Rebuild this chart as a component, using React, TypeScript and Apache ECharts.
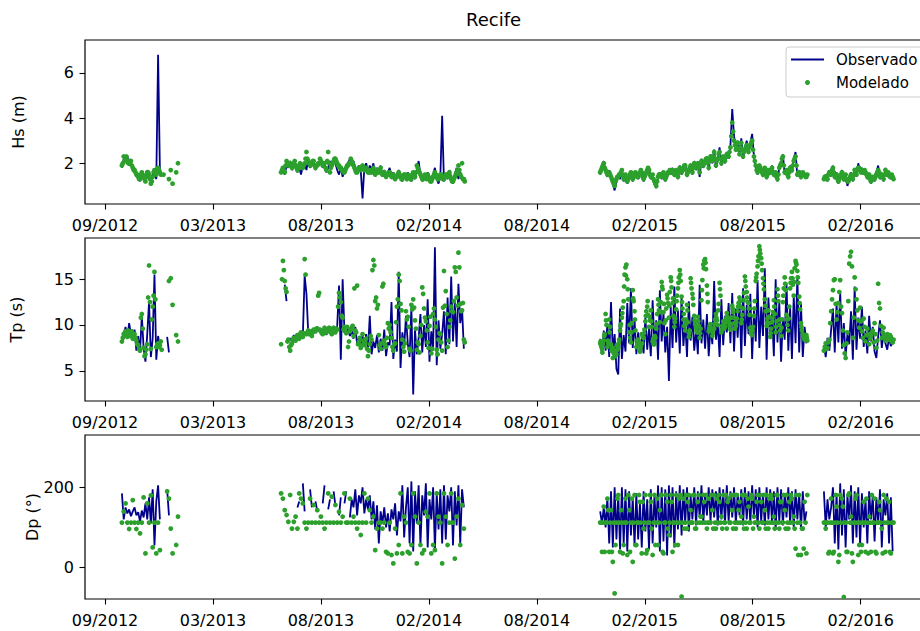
import React, { useEffect, useRef } from 'react';
import * as echarts from 'echarts';

const FONT = 'DejaVu Sans';
const DAY = 86400000;
const STEP_DAYS = 3;

// x tick dates (labels formatted MM/YYYY)
const TICK_DATES = ['2012-09-05', '2013-03-03', '2013-08-29', '2014-02-24', '2014-08-22', '2015-02-17', '2015-08-15', '2016-02-10'];
// start date of each data segment (values every STEP_DAYS days; "B"/"C" model arrays are offset inside a step)
const SEG_STARTS = ['2012-10-03', '2013-06-24', '2014-12-05', '2015-12-11'];

const HS_TICKS = [2, 4, 6];
const TP_TICKS = [5, 10, 15];
const DP_TICKS = [0, 200];

// ---------- Hs (m) ----------
const hsObs1 = [1.8, 2.2, 2.1, 2.3, 1.9, 2.0, 1.7, 1.8, 1.4, 1.5, 1.2, 1.6, 1.5, 1.3, 1.7, 1.4, 1.2, 1.5, 1.6, 1.3, 6.8, 1.7];
const hsMod1 = [1.9, 2.3, 2.2, 2.1, 2.0, 2.1, 1.8, 1.7, 1.5, 1.4, 1.3, 1.6, 1.4, 1.2, 1.6, 1.5, 1.1, 1.4, 1.7, 1.5, 1.8, 1.6, null, 1.5, null, null, 1.3, 1.7, 1.1, null, 1.6, 2.0];
const hsModB1 = [2.0, 2.1, 2.3, 2.0, 2.1, 1.9, 1.7, 1.6, 1.5, 1.3, 1.5, 1.5, 1.3, 1.4, 1.6, 1.3, 1.2, 1.6, 1.6, 1.7, 1.7, 1.5];
const hsObs2 = [
  1.6, 1.7, 1.5, 1.9, 1.8, 2.1, 1.7, 1.9, 2.0, 1.6,
  1.8, 1.5, 1.9, 2.0, 1.7, 2.2, 1.8, 1.9, 2.1, 1.7,
  2.0, 1.9, 2.2, 1.8, 2.0, 1.6, 1.8, 2.1, 1.9, 2.2,
  2.0, 1.7, 1.5, 1.8, 1.4, 1.7, 1.9, 2.0, 2.2, 1.9,
  2.1, 1.8, 1.6, 1.9, 1.7, 0.45, 1.8, 2.0, 1.6, 1.9,
  1.7, 2.0, 1.5, 1.8, 1.6, 1.9, 1.4, 1.7, 1.5, 1.6,
  1.8, 1.4, 1.6, 1.3, 1.5, 1.7, 1.4, 1.2, 1.5, 1.3,
  1.6, 1.4, 1.2, 1.5, 1.3, 1.7, 2.1, 1.5, 1.2, 1.4,
  1.3, 1.6, 1.4, 1.2, 1.5, 1.8, 1.3, 1.1, 1.4, 4.1,
  1.2, 1.5, 1.3, 1.7, 1.4, 1.1, 1.5, 1.8, 1.3, 1.6,
  1.4, 1.3];
const hsMod2 = [
  1.6, 1.8, 1.6, 2.1, 1.9, 2.0, 1.8, 2.0, 1.9, 1.7,
  1.9, 1.9, 1.8, 2.0, 2.5, 2.1, 1.9, 2.0, 2.1, 1.8,
  1.9, 2.0, 2.1, 1.9, 2.0, 1.7, 2.5, 1.6, 1.9, 2.1,
  2.2, 2.0, 1.9, 1.8, 1.7, 1.6, 1.8, 1.9, 2.0, 2.1,
  1.9, 1.7, 1.6, 1.8, 1.7, 1.9, 1.7, 1.8, 1.6, 1.7,
  1.6, 1.8, 1.5, 1.7, 1.6, 1.8, 1.5, 1.6, 1.4, 1.5,
  1.6, 1.4, 1.5, 1.3, 1.4, 1.6, 1.4, 1.3, 1.5, 1.4,
  1.5, 1.4, 1.3, 1.6, 1.4, 1.9, 1.7, 1.5, 1.3, 1.4,
  1.4, 1.5, 1.3, 1.2, 1.4, 1.6, 1.4, 1.3, 1.5, 1.4,
  1.3, 1.5, 1.4, 1.6, 1.3, 1.2, 1.4, 1.6, 1.9, 1.5,
  2.0, 1.3];
const hsModB2 = [
  1.7, 1.7, 1.9, 2.0, 2.0, 1.9, 1.9, 2.1, 1.8, 1.8,
  2.0, 1.8, 1.9, 2.2, 2.2, 2.0, 2.0, 2.1, 1.9, 1.9,
  2.0, 2.2, 2.0, 2.0, 1.8, 2.1, 2.0, 1.8, 2.0, 2.2,
  2.1, 1.9, 1.8, 1.7, 1.6, 1.7, 1.9, 2.0, 2.2, 2.0,
  1.8, 1.6, 1.7, 1.8, 1.8, 1.8, 1.8, 1.7, 1.6, 1.6,
  1.7, 1.6, 1.6, 1.6, 1.7, 1.6, 1.5, 1.5, 1.5, 1.6,
  1.5, 1.4, 1.4, 1.4, 1.5, 1.5, 1.3, 1.4, 1.5, 1.3,
  1.4, 1.3, 1.5, 1.5, 1.6, 1.8, 1.6, 1.4, 1.3, 1.5,
  1.3, 1.4, 1.2, 1.3, 1.5, 1.5, 1.3, 1.4, 1.5, 1.3,
  1.4, 1.5, 1.5, 1.4, 1.2, 1.3, 1.5, 1.7, 1.7, 1.4,
  1.3, 1.2];
const hsObs3 = [
  1.5, 1.9, 2.1, 1.6, 1.4, 1.7, 1.3, 1.1, 0.8, 1.2,
  1.5, 1.3, 1.6, 1.2, 1.4, 1.1, 1.3, 1.5, 1.2, 1.4,
  1.6, 1.3, 1.5, 1.7, 1.2, 1.4, 1.6, 1.8, 1.3, 1.5,
  1.1, 0.9, 1.4, 1.6, 1.3, 1.5, 1.2, 1.4, 1.7, 1.5,
  1.8, 1.4, 1.6, 1.3, 1.9, 1.5, 1.7, 2.0, 1.4, 1.6,
  1.8, 1.5, 2.1, 1.7, 1.9, 1.4, 2.2, 1.8, 2.0, 2.3,
  1.7, 2.4, 2.0, 2.6, 1.8, 2.2, 2.7, 1.9, 2.3, 2.0,
  2.5, 2.2, 2.8, 4.4, 3.2, 2.6, 3.0, 2.4, 3.1, 2.2,
  2.7, 3.0, 2.5, 2.9, 3.3, 2.3, 1.8, 1.5, 1.9, 1.6,
  1.4, 1.8, 1.3, 1.7, 1.5, 1.9, 1.4, 1.6, 1.2, 1.8,
  2.0, 2.4, 1.5, 1.7, 1.3, 1.9, 1.6, 2.2, 2.5, 1.4,
  1.7, 1.3, 1.6, 1.4, 1.5];
const hsMod3 = [
  1.6, 1.8, 2.0, 1.7, 1.5, 1.6, 1.4, 1.2, 1.0, 1.3,
  1.4, 1.5, 1.7, 1.3, 1.5, 1.2, 1.4, 1.6, 1.3, 1.5,
  1.5, 1.4, 1.6, 1.6, 1.3, 1.5, 1.7, 1.7, 1.4, 1.5,
  1.2, 1.0, 1.4, 1.5, 1.4, 1.6, 1.3, 1.5, 1.6, 1.6,
  1.7, 1.5, 1.7, 1.4, 1.8, 1.6, 1.8, 1.9, 1.5, 1.7,
  1.9, 1.6, 2.0, 1.8, 2.0, 1.6, 2.1, 1.9, 2.1, 2.2,
  1.8, 2.3, 2.1, 2.5, 1.9, 2.2, 2.5, 2.0, 2.3, 2.1,
  2.4, 2.3, 2.7, 3.8, 3.0, 2.6, 2.9, 2.4, 2.9, 2.3,
  2.6, 2.8, 2.5, 2.8, 3.0, 2.3, 1.9, 1.6, 1.9, 1.7,
  1.5, 1.8, 1.4, 1.7, 1.6, 1.8, 1.5, 1.6, 1.3, 1.8,
  2.0, 2.3, 1.6, 1.7, 1.4, 1.8, 1.7, 2.1, 2.3, 1.5,
  1.6, 1.4, 1.6, 1.5, 1.4];
const hsModB3 = [
  1.7, 1.9, 1.8, 1.6, 1.5, 1.5, 1.3, 1.1, 1.2, 1.4,
  1.5, 1.6, 1.5, 1.4, 1.3, 1.3, 1.5, 1.4, 1.4, 1.6,
  1.4, 1.5, 1.7, 1.4, 1.4, 1.6, 1.8, 1.5, 1.4, 1.3,
  1.1, 1.2, 1.5, 1.5, 1.5, 1.4, 1.4, 1.6, 1.7, 1.6,
  1.6, 1.6, 1.5, 1.6, 1.7, 1.7, 1.9, 1.7, 1.6, 1.8,
  1.8, 1.8, 1.9, 1.9, 1.8, 1.9, 2.0, 2.0, 2.2, 2.0,
  2.1, 2.2, 2.3, 2.2, 2.1, 2.4, 2.2, 2.2, 2.2, 2.3,
  2.3, 2.5, 3.2, 3.4, 2.8, 2.7, 2.6, 2.7, 2.6, 2.5,
  2.7, 2.6, 2.7, 2.9, 2.6, 2.1, 1.7, 1.8, 1.8, 1.6,
  1.7, 1.6, 1.5, 1.6, 1.7, 1.6, 1.6, 1.4, 1.5, 1.9,
  2.2, 1.9, 1.6, 1.5, 1.6, 1.7, 1.9, 2.2, 1.9, 1.6,
  1.5, 1.5, 1.5, 1.4, 1.5];
const hsObs4 = [
  1.3, 1.5, 1.2, 1.7, 1.4, 1.9, 1.3, 1.6, 1.1, 1.4,
  1.7, 1.2, 1.5, 1.0, 1.3, 1.6, 1.2, 1.8, 1.4, 2.0,
  1.6, 1.8, 1.5, 1.7, 1.3, 1.5, 1.1, 1.4, 1.2, 1.6,
  1.9, 1.3, 1.5, 1.2, 1.8, 1.4, 1.6, 1.3, 1.4];
const hsMod4 = [
  1.3, 1.4, 1.3, 1.6, 1.5, 1.8, 1.4, 1.5, 1.2, 1.4,
  1.6, 1.3, 1.5, 1.2, 1.3, 1.5, 1.3, 1.7, 1.5, 1.8,
  1.7, 1.7, 1.6, 1.6, 1.4, 1.5, 1.2, 1.4, 1.3, 1.5,
  1.7, 1.4, 1.5, 1.3, 1.7, 1.5, 1.5, 1.4, 1.4];
const hsModB4 = [
  1.4, 1.3, 1.5, 1.6, 1.7, 1.6, 1.5, 1.3, 1.3, 1.5,
  1.5, 1.4, 1.3, 1.2, 1.4, 1.4, 1.5, 1.6, 1.7, 1.8,
  1.6, 1.6, 1.7, 1.5, 1.5, 1.3, 1.3, 1.3, 1.4, 1.6,
  1.6, 1.5, 1.4, 1.5, 1.6, 1.6, 1.4, 1.5, 1.3];

// ---------- Tp (s) ----------
const tpObs1 = [8.0, 8.8, 9.8, 8.5, 10.2, 9.0, 8.3, 9.5, 7.2, 8.8, 7.0, 11.0, 7.5, 6.0, 9.0, 12.5, 6.5, 8.5, 15.5, 6.2, 8.8, 7.5, null, null, null, 8.7, 7.0];
const tpMod1 = [8.2, 9.0, 9.3, 8.7, 9.2, 8.9, 8.5, 9.0, 8.3, 7.8, 7.2, 11.2, 7.5, 6.8, 7.9, 16.5, 7.4, 12.0, 15.8, 7.6, 8.0, 7.8, 7.3, null, null, null, 14.8, 15.1, 12.2, null, 8.9, 8.2];
const tpModB1 = [8.6, 9.1, 9.0, 9.4, 8.8, 9.3, 8.7, 8.6, 7.9, 7.4, 10.8, 9.6, 6.6, 7.3, 13.0, 12.5, 10.6, 13.2, 12.8, 7.9, 7.6, 8.2];
const tpObs2 = [
  8.0, null, 14.4, 12.6, null, 8.6, 8.2, 8.9, 8.5, 9.0,
  8.7, 9.2, 8.8, 15.4, 13.4, 9.1, 9.4, 8.9, 9.6, 9.2,
  9.8, 9.3, 9.5, 9.0, 9.7, 8.9, 9.5, 9.8, 9.1, 9.6,
  9.3, 9.9, 14.3, 6.2, 15.0, 9.2, 9.0, 9.6, 8.8, 9.4,
  8.5, 9.8, 7.9, 8.6, 7.4, 8.8, 7.6, 9.0, 7.3, 11.0,
  6.8, 8.2, 7.5, 8.9, 7.0, 8.5, 7.2, 9.5, 6.6, 8.1,
  7.8, 12.5, 6.3, 8.4, 7.1, 15.8, 5.3, 9.2, 7.5, 11.0,
  8.0, 6.5, 12.0, 2.4, 9.5, 6.8, 8.6, 11.2, 7.0, 10.0,
  7.6, 12.8, 6.0, 9.3, 7.2, 18.5, 5.6, 10.5, 7.4, 9.0,
  11.5, 6.8, 13.0, 7.9, 15.3, 8.2, 12.5, 7.6, 14.5, 10.2,
  11.8, 7.4];
const tpMod2 = [
  7.9, 17.0, 14.8, 13.6, 8.4, 7.2, 8.0, 8.6, 8.3, 8.9,
  8.5, 9.2, 8.7, 17.2, 9.0, 9.4, 9.1, 8.8, 9.5, 9.3,
  9.6, 13.5, 9.3, 9.0, 9.7, 9.2, 9.4, 9.6, 9.0, 9.7,
  9.2, 9.5, 13.5, 12.5, 10.8, 9.8, 9.1, 7.6, 9.3, 9.7,
  8.8, 9.4, 14.3, 8.2, 7.5, 9.0, 7.8, 8.5, 6.6, 7.9,
  8.4, 17.1, 12.6, 11.8, 8.9, 7.4, 14.2, 8.3, 7.6, 10.2,
  10.0, 8.6, 7.2, 8.0, 12.0, 15.5, 12.3, 8.4, 7.1, 11.5,
  10.9, 7.4, 12.2, 12.8, 10.5, 7.3, 7.9, 8.8, 14.1, 11.8,
  10.4, 8.1, 9.9, 6.9, 11.2, 10.6, 7.3, 8.4, 9.0, 7.2,
  15.9, 13.7, 7.6, 9.8, 12.0, 11.4, 16.3, 13.0, 17.9, 12.3,
  11.6, 8.4];
const tpModB2 = [
  15.0, 16.0, 14.0, 8.2, 7.6, 7.8, 8.4, 8.5, 8.7, 8.6,
  9.0, 8.9, 9.1, 15.5, 9.2, 9.0, 9.3, 9.2, 9.4, 9.6,
  13.2, 9.5, 9.1, 9.4, 9.5, 9.3, 9.7, 9.2, 9.5, 9.4,
  9.6, 12.0, 13.0, 11.0, 9.5, 9.3, 9.8, 8.2, 9.5, 9.9,
  14.0, 9.2, 7.9, 8.6, 7.8, 8.3, 8.1, 7.4, 7.2, 8.8,
  16.0, 16.5, 13.0, 12.2, 7.8, 8.0, 14.5, 7.9, 8.6, 9.6,
  9.2, 7.6, 7.9, 10.3, 12.8, 14.8, 11.6, 7.6, 8.0, 10.6,
  9.8, 7.2, 11.7, 11.9, 9.6, 8.1, 7.0, 10.0, 13.4, 10.8,
  9.4, 7.5, 10.9, 7.4, 11.8, 9.8, 6.8, 9.1, 8.1, 11.9,
  12.1, 11.2, 8.3, 10.5, 11.5, 12.6, 15.8, 12.1, 16.3, 11.5,
  12.4, 8.1];
const tpObs3 = [
  8.5, 6.8, 9.4, 7.2, 10.2, 6.5, 12.5, 7.0, 9.0, 5.2,
  4.6, 11.8, 6.3, 8.9, 7.1, 12.4, 8.0, 14.0, 7.5, 10.6,
  6.8, 9.2, 7.4, 8.5, 6.9, 10.8, 7.3, 9.6, 6.6, 12.7,
  7.8, 10.5, 6.2, 13.8, 8.2, 11.4, 7.0, 9.8, 3.9, 12.0,
  7.5, 14.2, 8.1, 11.6, 6.9, 13.1, 7.7, 10.4, 6.5, 12.6,
  8.3, 10.9, 7.2, 9.5, 6.8, 14.4, 8.0, 10.6, 7.4, 11.2,
  6.6, 9.9, 7.9, 14.8, 8.4, 10.2, 6.5, 12.8, 7.8, 11.0,
  9.2, 12.4, 8.0, 13.5, 7.1, 11.8, 8.6, 12.9, 6.4, 14.0,
  7.7, 12.2, 9.0, 13.4, 6.3, 11.6, 8.2, 14.9, 7.5, 12.0,
  8.8, 16.2, 6.2, 13.0, 8.9, 11.2, 6.6, 15.0, 8.1, 12.5,
  6.0, 10.8, 8.4, 14.6, 7.2, 11.9, 6.3, 13.2, 8.0, 15.4,
  7.0, 12.3, 6.5, 9.8, 8.0];
const tpMod3 = [
  8.0, 7.4, 8.3, 11.2, 7.6, 10.6, 7.9, 6.4, 7.2, 6.8,
  7.5, 9.4, 10.8, 12.6, 16.3, 15.0, 9.2, 8.1, 13.8, 11.5,
  7.6, 8.4, 7.1, 9.0, 8.6, 10.4, 12.0, 9.8, 11.6, 8.2,
  7.9, 9.6, 12.8, 10.3, 14.7, 11.4, 9.0, 13.3, 10.8, 15.2,
  12.4, 9.8, 11.7, 14.0, 16.0, 13.1, 10.6, 9.4, 12.2, 8.7,
  15.1, 13.4, 11.0, 9.7, 10.9, 8.6, 12.7, 16.6, 17.2, 14.3,
  9.3, 10.1, 8.8, 9.6, 11.2, 10.0, 14.6, 9.2, 10.4, 9.8,
  11.3, 10.6, 9.5, 12.1, 10.8, 9.9, 11.5, 13.0, 10.2, 11.8,
  15.3, 13.6, 12.4, 9.7, 8.9, 11.0, 14.8, 16.4, 18.6, 17.3,
  15.1, 12.8, 9.9, 11.6, 8.7, 10.3, 12.7, 9.2, 13.9, 10.6,
  8.8, 12.5, 15.2, 11.1, 9.4, 14.0, 15.8, 13.2, 17.0, 15.9,
  13.1, 10.2, 9.0, 8.4, 8.9];
const tpModB3 = [
  7.7, 7.9, 9.0, 10.0, 8.0, 9.8, 7.5, 6.9, 7.0, 7.3,
  8.4, 10.1, 11.9, 15.5, 16.6, 12.8, 8.6, 10.2, 12.6, 9.4,
  7.9, 7.8, 7.7, 8.7, 9.5, 11.5, 11.1, 10.5, 9.8, 7.9,
  8.6, 11.2, 11.6, 12.5, 13.9, 10.2, 11.8, 12.4, 13.6, 14.1,
  11.0, 10.7, 13.2, 15.2, 14.8, 11.8, 9.9, 10.6, 10.3, 9.4,
  14.0, 12.2, 10.1, 9.2, 9.9, 9.6, 14.9, 17.0, 16.1, 12.5,
  9.9, 9.4, 9.5, 10.6, 10.5, 12.3, 13.2, 9.9, 9.6, 10.7,
  10.5, 9.9, 10.8, 11.4, 9.6, 10.7, 12.4, 12.0, 11.1, 13.5,
  14.2, 12.5, 11.1, 9.0, 9.8, 12.6, 15.6, 17.5, 17.8, 16.0,
  13.9, 11.5, 10.7, 10.2, 9.6, 11.4, 11.2, 10.4, 12.6, 9.4,
  10.6, 14.0, 13.8, 10.0, 12.0, 15.1, 14.4, 16.2, 16.6, 14.6,
  11.7, 9.4, 8.6, 8.8, 8.3];
const tpModC3 = [
  8.2, 7.0, 8.8, 10.5, 8.3, 9.2, 7.2, 7.5, 6.6, 7.8,
  8.0, 9.9, 11.3, 14.2, 15.4, 13.9, 10.0, 9.2, 12.9, 10.6,
  8.3, 8.1, 7.4, 8.0, 9.1, 11.0, 12.6, 10.9, 10.4, 8.5,
  8.8, 10.1, 12.2, 11.4, 14.2, 12.3, 10.5, 12.9, 12.1, 14.8,
  12.9, 10.3, 12.6, 14.6, 15.5, 12.5, 11.2, 10.1, 11.6, 9.1,
  14.6, 12.9, 10.5, 9.4, 10.4, 9.1, 13.8, 16.2, 16.8, 13.4,
  9.6, 9.7, 9.1, 10.1, 10.8, 11.6, 13.9, 9.5, 10.0, 10.2,
  10.9, 10.3, 10.1, 11.8, 10.2, 10.3, 12.0, 12.6, 10.6, 12.7,
  14.8, 13.0, 11.8, 9.3, 9.4, 11.8, 15.2, 17.0, 18.2, 16.7,
  14.5, 12.1, 10.3, 10.9, 9.1, 10.8, 12.0, 9.8, 13.2, 10.0,
  9.7, 13.2, 14.5, 10.6, 10.7, 14.6, 15.1, 14.7, 16.8, 15.2,
  12.4, 9.8, 8.8, 8.6, 8.6];
const tpObs4 = [
  7.8, 6.5, 8.6, 7.2, 9.5, 11.8, 7.0, 12.4, 8.1, 13.6,
  7.4, 10.2, 6.6, 9.0, 7.9, 11.5, 6.2, 14.2, 7.3, 10.8,
  8.5, 12.0, 7.6, 9.4, 6.9, 11.0, 8.2, 9.8, 7.1, 6.4,
  8.8, 10.5, 7.5, 9.2, 8.0, 7.3, 8.6, 7.7, 8.1];
const tpMod4 = [
  7.2, 8.0, 7.5, 8.4, 11.5, 13.8, 15.0, 10.6, 12.4, 14.9,
  11.3, 7.8, 6.4, 9.2, 16.7, 18.0, 8.6, 15.2, 12.8, 10.5,
  11.9, 9.3, 10.7, 8.2, 9.6, 7.9, 8.8, 9.4, 10.2, 7.5,
  14.5, 11.8, 8.6, 9.7, 8.3, 9.0, 8.4, 8.7, 8.1];
const tpModB4 = [
  7.6, 7.4, 8.1, 10.2, 12.8, 14.9, 12.3, 11.4, 13.6, 12.0,
  9.4, 6.9, 8.0, 12.6, 17.5, 16.4, 10.8, 13.9, 11.6, 9.7,
  10.4, 8.6, 9.8, 8.9, 9.0, 8.5, 9.2, 8.1, 9.0, 8.3,
  12.4, 9.9, 9.2, 8.8, 8.6, 8.5, 8.9, 8.2, 8.4];

// ---------- Dp (°) ----------
const dpObs1 = [185, 120, 150, 135, 145, 128, 140, 150, 130, 138, 115, 142, 125, 160, 120, 175, 110, 195, 55, 165, 205, 120, null, null, null, 195, 130];
const dpMod1 = [112, 140, 160, 112, 96, 112, 168, 112, 96, 112, 85, 112, 175, 35, 160, 112, 180, 50, 112, 35, 112, 43, null, null, null, 190, 172, 97, 35, null, 56, 127];
const dpObs2 = [
  null, null, null, null, null, null, null, null, null, 150,
  165, null, 210, 140, null, null, 195, 150, null, 165,
  140, null, null, 160, 205, null, 145, 170, null, 190,
  155, null, 130, 175, null, 160, 190, null, 125, 170,
  150, 195, 130, 180, 160, 200, 135, 170, 145, 180,
  120, 165, 95, 155, 60, 140, 110, 150, 100, 135,
  90, 145, 120, 160, 80, 140, 115, 205, 75, 150,
  200, 60, 215, 40, 190, 110, 205, 55, 180, 130,
  210, 50, 170, 120, 200, 45, 185, 95, 195, 60,
  205, 70, 180, 140, 200, 55, 190, 105, 205, 60,
  195, 150];
const dpMod2 = [
  185, 172, 143, 131, 114, 181, 97, 114, 127, 97,
  185, 172, 160, 112, 97, 112, 172, 112, 156, 112,
  143, 112, 127, 112, 97, 112, 185, 112, 177, 112,
  156, 112, 139, 112, 127, 185, 112, 112, 172, 112,
  127, 112, 97, 112, 81, 112, 185, 112, 172, 143,
  112, 127, 43, 97, 112, 112, 97, 112, 39, 35,
  112, 31, 10, 97, 35, 56, 185, 35, 127, 112,
  39, 35, 56, 185, 127, 10, 112, 56, 35, 43,
  139, 127, 185, 35, 56, 43, 185, 127, 112, 10,
  185, 127, 56, 112, 185, 112, 22, 127, 172, 56,
  156, 97];
const dpObs3 = [
  140, 110, 150, 100, 175, 60, 190, 50, 200, 70,
  185, 45, 200, 60, 195, 40, 190, 80, 175, 55,
  185, 70, 160, 50, 190, 90, 170, 45, 195, 60,
  180, 100, 205, 40, 200, 65, 195, 30, 205, 75,
  200, 50, 190, 95, 205, 80, 195, 110, 200, 90,
  180, 120, 200, 105, 190, 125, 205, 110, 185, 130,
  200, 115, 195, 125, 190, 105, 200, 120, 195, 110,
  205, 115, 190, 125, 200, 110, 185, 130, 195, 105,
  200, 120, 190, 110, 205, 125, 195, 100, 200, 115,
  185, 105, 200, 120, 195, 110, 190, 95, 200, 115,
  195, 105, 185, 125, 200, 110, 190, 100, 195, 120,
  185, 95, 190, 110, 140];
const dpMod3 = [
  112, 39, 152, 112, 172, 39, 143, 14, -65, 112,
  181, 39, 112, 56, 172, 31, 143, 112, 14, 181,
  56, 112, 164, 35, 97, 181, 43, 112, 164, 31,
  181, 112, 56, 143, 181, 35, 112, 164, 81, 181,
  39, 112, 181, 56, 112, -73, 172, 112, 97, 181,
  143, 112, 181, 97, 164, 112, 127, 181, 112, 97,
  172, 112, 143, 181, 97, 112, 164, 127, 181, 112,
  97, 172, 112, 143, 181, 97, 112, 164, 127, 112,
  181, 97, 152, 112, 172, 127, 112, 181, 97, 164,
  112, 143, 181, 97, 112, 172, 127, 112, 181, 97,
  164, 112, 143, 181, 97, 112, 172, 127, 47, 112,
  181, 31, 97, 164, 35];
const dpModB3 = [
  112, 112, 39, 112, 143, 112, 39, 112, 56, 172,
  112, 143, 35, 112, 112, 181, 39, 172, 112, 56,
  112, 181, 112, 164, 112, 35, 112, 181, 97, 112,
  56, 172, 112, 181, 39, 112, 181, 97, 112, 164,
  112, 56, 112, 172, 181, 112, 97, 181, 164, 112,
  112, 181, 97, 112, 181, 127, 112, 164, 181, 112,
  112, 181, 97, 112, 172, 181, 112, 97, 112, 181,
  164, 112, 181, 97, 112, 181, 143, 112, 181, 97,
  112, 172, 112, 181, 97, 112, 164, 112, 181, 112,
  181, 97, 112, 172, 181, 112, 97, 181, 112, 164,
  112, 181, 97, 112, 164, 181, 112, 97, 181, 31,
  112, 97, 47, 112, 181];
const dpObs4 = [
  190, 100, 170, 120, 150, 200, 60, 185, 45, 210,
  80, 195, 50, 180, 120, 205, 60, 190, 75, 200,
  55, 185, 100, 170, 60, 190, 120, 180, 65, 175,
  110, 195, 50, 170, 130, 185, 60, 175, 40];
const dpMod4 = [
  112, 97, 112, 39, 172, 35, 112, 152, 14, 181,
  172, -74, 112, 39, 185, 127, 14, 112, 181, 31,
  112, 56, 164, 39, 112, 127, 39, 112, 172, 35,
  112, 143, 97, 181, 39, 112, 164, 35, 112];
const dpModB4 = [
  112, 112, 35, 112, 112, 39, 181, 112, 31, 112,
  152, 112, 39, 181, 112, 35, 112, 172, 112, 56,
  39, 112, 112, 172, 35, 112, 181, 112, 39, 112,
  164, 112, 35, 112, 172, 112, 39, 112, 112];

const parseDate = (s: string) => {
  const [y, m, d] = s.split('-').map(Number);
  return Date.UTC(y, m - 1, d);
};
const TICKS = TICK_DATES.map(parseDate);
const STARTS = SEG_STARTS.map(parseDate);
const X_MIN = TICKS[0] - 33.2 * DAY;
const X_MAX = TICKS[0] + 1384.5 * DAY;

function lineData(segs: (number | null)[][]) {
  const out: any[] = [];
  segs.forEach((vals, s) => {
    vals.forEach((v, i) => out.push([STARTS[s] + i * STEP_DAYS * DAY, v == null ? '-' : v]));
    out.push([STARTS[s] + vals.length * STEP_DAYS * DAY, '-']);
  });
  return out;
}
function scatterData(segs: (number | null)[][], offsetSteps: number, out: number[][]) {
  segs.forEach((vals, s) => {
    vals.forEach((v, i) => {
      if (v != null) out.push([STARTS[s] + (i + offsetSteps) * STEP_DAYS * DAY, v]);
    });
  });
  return out;
}

const fmtDate = (v: number) => {
  const d = new Date(v);
  const m = d.getUTCMonth() + 1;
  return (m < 10 ? '0' : '') + m + '/' + d.getUTCFullYear();
};

export default function App() {
  const ref = useRef<HTMLDivElement>(null);
  useEffect(() => {
    document.body.style.margin = '0';
    if (!ref.current) return;
    const chart = echarts.init(ref.current, undefined, { renderer: 'svg' });

    const grids = [
      { top: 40, height: 164 },
      { top: 238, height: 163 },
      { top: 435, height: 164 },
    ].map((g) => ({
      ...g,
      left: 85,
      right: 20,
      show: true,
      borderColor: '#000',
      borderWidth: 1.2,
      backgroundColor: 'transparent',
      containLabel: false,
      outerBoundsMode: 'none',
    }));

    const xAxes = [0, 1, 2].map((i) => ({
      type: 'value',
      gridIndex: i,
      min: X_MIN,
      max: X_MAX,
      axisLine: { show: false, onZero: false },
      splitLine: { show: false },
      axisTick: { show: true, length: 5.5, lineStyle: { color: '#000', width: 1.1 }, customValues: TICKS },
      axisLabel: {
        customValues: TICKS,
        formatter: fmtDate,
        margin: 13,
        fontSize: 16,
        color: '#000',
        fontFamily: FONT,
      },
    }));

    const yDefs = [
      { name: 'Hs (m)', min: 0.2, max: 7.45, ticks: HS_TICKS, gap: 59 },
      { name: 'Tp (s)', min: 1.7, max: 19.5, ticks: TP_TICKS, gap: 61 },
      { name: 'Dp (°)', min: -79, max: 331, ticks: DP_TICKS, gap: 45 },
    ];
    const yAxes = yDefs.map((d, i) => ({
      type: 'value',
      gridIndex: i,
      min: d.min,
      max: d.max,
      name: d.name,
      nameLocation: 'middle',
      nameGap: d.gap,
      nameMoveOverlap: false,
      nameTextStyle: { fontSize: 16, color: '#000', fontFamily: FONT },
      axisLine: { show: false, onZero: false },
      splitLine: { show: false },
      axisTick: { show: true, length: 5.5, lineStyle: { color: '#000', width: 1.1 }, customValues: d.ticks },
      axisLabel: { customValues: d.ticks, margin: 11, fontSize: 16, color: '#000', fontFamily: FONT },
    }));

    const obs = [
      [hsObs1, hsObs2, hsObs3, hsObs4],
      [tpObs1, tpObs2, tpObs3, tpObs4],
      [dpObs1, dpObs2, dpObs3, dpObs4],
    ];
    const mod = [
      [hsMod1, hsMod2, hsMod3, hsMod4],
      [tpMod1, tpMod2, tpMod3, tpMod4],
      [dpMod1, dpMod2, dpMod3, dpMod4],
    ];
    const modB = [
      [hsModB1, hsModB2, hsModB3, hsModB4],
      [tpModB1, tpModB2, tpModB3, tpModB4],
      [[], [], dpModB3, dpModB4],
    ];
    const modC = [
      [[], [], [], []],
      [[], [], tpModC3, []],
      [[], [], [], []],
    ];

    const series: any[] = [];
    [0, 1, 2].forEach((i) => {
      series.push({
        name: 'Observado',
        type: 'line',
        xAxisIndex: i,
        yAxisIndex: i,
        data: lineData(obs[i]),
        showSymbol: false,
        symbol: 'none',
        connectNulls: false,
        lineStyle: { color: '#00008b', width: 1.8 },
        itemStyle: { color: '#00008b' },
        z: 2,
        silent: true,
      });
    });
    [0, 1, 2].forEach((i) => {
      const pts: number[][] = [];
      scatterData(mod[i], 0, pts);
      scatterData(modB[i], 0.5, pts);
      scatterData(modC[i], 0.25, pts);
      series.push({
        name: 'Modelado',
        type: 'scatter',
        xAxisIndex: i,
        yAxisIndex: i,
        data: pts,
        symbolSize: 4.8,
        itemStyle: { color: '#2ca02c', opacity: 1 },
        z: 3,
        silent: true,
      });
    });

    chart.setOption({
      animation: false,
      backgroundColor: '#fff',
      title: {
        text: 'Recife',
        left: 466,
        top: 10,
        padding: 0,
        textStyle: { fontSize: 18, fontWeight: 'normal', color: '#000', fontFamily: FONT },
      },
      legend: {
        data: [
          { name: 'Observado', itemStyle: { color: 'rgba(0,0,0,0)', borderWidth: 0, opacity: 0 } },
          { name: 'Modelado', icon: 'circle' },
        ],
        orient: 'vertical',
        left: 786,
        top: 47,
        itemWidth: 33,
        itemHeight: 5,
        itemGap: 8,
        padding: [5, 10, 7, 4],
        backgroundColor: 'rgba(255,255,255,0.8)',
        borderColor: '#cccccc',
        borderWidth: 1,
        borderRadius: 3,
        selectedMode: false,
        textStyle: { fontSize: 15, color: '#000', fontFamily: FONT, lineHeight: 15, padding: [0, 0, 0, 7] },
      },
      grid: grids,
      xAxis: xAxes,
      yAxis: yAxes,
      series,
    });
    return () => chart.dispose();
  }, []);

  return (
    <div style={{ width: 920, height: 631, overflow: 'hidden', position: 'relative', background: '#fff' }}>
      <div ref={ref} style={{ width: 960, height: 631 }} />
    </div>
  );
}
